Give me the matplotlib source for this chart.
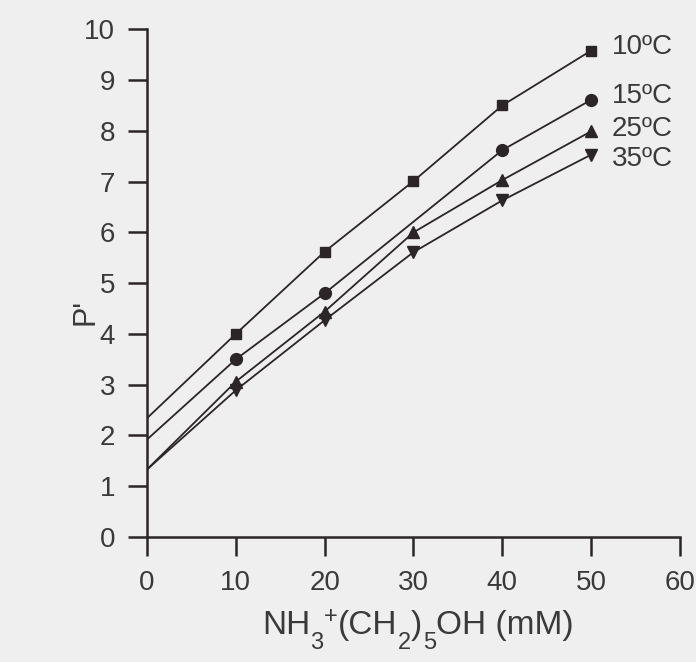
import numpy as np
import matplotlib
matplotlib.use("Agg")
import matplotlib.pyplot as plt

plt.rcParams['font.family'] = ['Liberation Sans', 'DejaVu Sans']

# concentration (mM); first value is the fitted intercept (no marker)
conc = [0, 10, 20, 30, 40, 50]
p_10C = [2.34, 4.00, 5.62, 7.01, 8.50, 9.58]
p_15C = [1.92, 3.50, 4.80, np.nan, 7.62, 8.61]
p_25C = [1.33, 3.06, 4.44, 6.00, 7.03, 7.99]
p_35C = [1.33, 2.89, 4.27, 5.61, 6.63, 7.53]
labels = ["10ºC", "15ºC", "25ºC", "35ºC"]
label_y = [9.65, 8.68, 8.04, 7.44]
xticks = [0, 10, 20, 30, 40, 50, 60]
yticks = [0, 1, 2, 3, 4, 5, 6, 7, 8, 9, 10]

series = [p_10C, p_15C, p_25C, p_35C]
markers = ['s', 'o', '^', 'v']
msizes = [7.5, 8.5, 9, 9]

bg = '#f0eff0'
ink = '#2b2528'
txt = '#3a3a3a'

W, H = 696, 662
fig = plt.figure(figsize=(W / 100, H / 100), dpi=100, facecolor=bg)
ax = fig.add_axes([0.2112, 0.1888, 0.7658, 0.767])
ax.set_facecolor(bg)

x = np.array(conc, dtype=float)
for vals, m, ms, lab, ly in zip(series, markers, msizes, labels, label_y):
    v = np.array(vals, dtype=float)
    ok = ~np.isnan(v)
    ax.plot(x[ok], v[ok], '-', color=ink, lw=1.3, zorder=2)
    ax.plot(x[1:], v[1:], linestyle='none', marker=m, ms=ms, color=ink,
            mec=ink, zorder=3)
    ax.text(52.3, ly, lab, fontsize=20, color=txt, va='center', ha='left')

ax.set_xlim(0, 60)
ax.set_ylim(0, 10)
ax.set_xticks(xticks)
ax.set_yticks(yticks)
for s in ['top', 'right']:
    ax.spines[s].set_visible(False)
for s in ['left', 'bottom']:
    ax.spines[s].set_linewidth(1.8)
    ax.spines[s].set_color(ink)
ax.tick_params(axis='both', direction='out', length=14, width=1.8,
               color=ink, labelsize=20, labelcolor=txt)
ax.tick_params(axis='y', pad=9)
ax.tick_params(axis='x', pad=10)

# y label
fig.text(85 / W, 1 - 312 / H, "P'", fontsize=22, color=txt, rotation=90,
         ha='center', va='center')

# x label composed piecewise: NH3+(CH2)5OH (mM)
base_y = 1 - 634 / H
pieces = [("NH", 24, 0), ("3", 17, -11), ("+", 17, 8), ("(CH", 24, 0),
          ("2", 17, -11), (")", 24, 0), ("5", 17, -11), ("OH (mM)", 24, 0)]
prev = fig.text(262 / W, base_y, pieces[0][0], fontsize=pieces[0][1],
                color=txt, va='baseline', ha='left')
for s, fs, dy in pieces[1:]:
    prev = ax.annotate(
        s, xy=(1, base_y), xycoords=(prev, 'figure fraction'),
        xytext=(0.2, dy), textcoords='offset points',
        fontsize=fs, color=txt, va='baseline', ha='left',
        annotation_clip=False)

fig.savefig("out.png", dpi=100, facecolor=bg)
